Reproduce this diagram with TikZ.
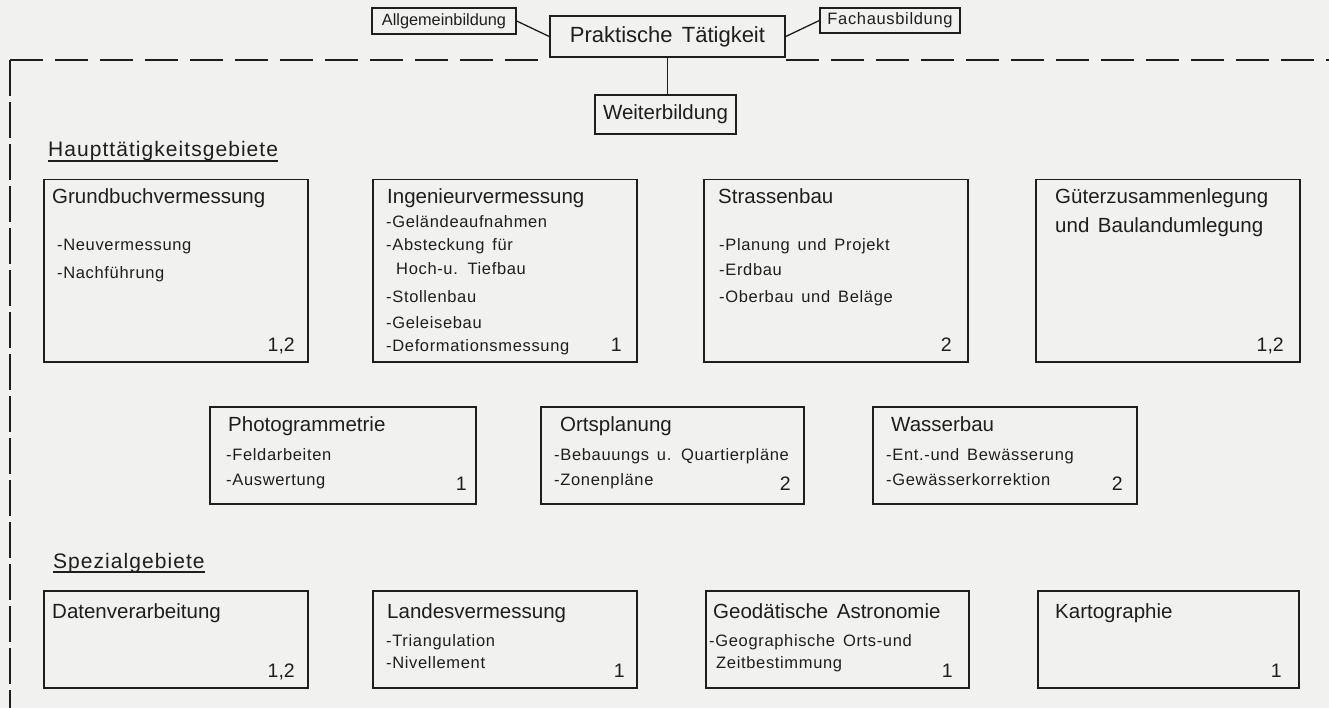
\documentclass[tikz,border=0pt]{standalone}
\usepackage{fontspec}
\setmainfont{Liberation Sans}[WordSpace=1.5]
\newfontfamily\itf{Liberation Sans}[LetterSpace=4,WordSpace=1.5]
\newfontfamily\hdf{Liberation Sans}[LetterSpace=5,WordSpace=1.5]
\definecolor{ink}{HTML}{1E1E1E}
\definecolor{paper}{HTML}{F1F1EF}
\tikzset{
  box/.style={draw=ink, line width=1.5pt, anchor=north west, inner sep=0pt},
  ttl/.style={anchor=base west, inner sep=0pt, text=ink, font=\fontsize{20.5}{24}\selectfont},
  itm/.style={anchor=base west, inner sep=0pt, text=ink, font=\itf\fontsize{16.5}{19}\selectfont},
  num/.style={anchor=base east, inner sep=0pt, text=ink, font=\fontsize{19.5}{23}\selectfont},
  head/.style={anchor=base west, inner sep=0pt, text=ink, font=\hdf\fontsize{21}{25}\selectfont},
  lbl/.style={draw=ink, line width=1.3pt, inner sep=0pt, text=ink},
  conn/.style={draw=ink, line width=1.3pt},
  dsh/.style={draw=ink, line width=1.3pt, dash pattern=on 33pt off 12pt},
  vdsh/.style={draw=ink, line width=1.3pt, dash pattern=on 36pt off 6pt},
  uline/.style={draw=ink, line width=1.1pt}
}
\begin{document}
\begin{tikzpicture}[x=1pt,y=-1pt]
\fill[paper] (0,0) rectangle (1329,708);
\useasboundingbox (0,0) rectangle (1329,708);

% top boxes
\node[lbl, minimum width=144pt, minimum height=26pt, font=\fontsize{16.3}{19}\selectfont] (allg) at (444,21) {Allgemeinbildung};
\node[lbl, line width=1.5pt, minimum width=235pt, minimum height=41pt, font=\fontsize{22}{26}\selectfont] (prak) at (667.5,36.5) {Praktische Tätigkeit};
\node[lbl, minimum width=140pt, minimum height=25pt, font=\itf\fontsize{16.5}{19}\selectfont] (fach) at (890,20.5) {Fachausbildung};
\node[lbl, line width=1.5pt, minimum width=141pt, minimum height=39pt, font=\fontsize{20.5}{24}\selectfont] (weit) at (665.5,114.5) {Weiterbildung};
\draw[conn] (allg.east) -- (prak.west);
\draw[conn] (prak.east) -- (fach.west);
\draw[conn] (prak.south) -- (prak.south |- weit.north);

% dashed frame
\coordinate (dL) at (10,60);
\coordinate (dB) at (10,708);
\coordinate (dR) at (1329,60);
\coordinate (pL) at (prak.south west |- dL);
\coordinate (pR) at (prak.south east |- dL);
\draw[dsh] (dL) -- (pL);
\draw[dsh] (pR) -- (dR);
\draw[vdsh] (dL) -- (dB);

% headings
\node[head] (h1) at (48,157) {Haupttätigkeitsgebiete};
\draw[uline] ([yshift=-4pt]h1.base west) -- ([yshift=-4pt]h1.base east);
\node[head] (h2) at (53,568) {Spezialgebiete};
\draw[uline] ([yshift=-4pt]h2.base west) -- ([yshift=-4pt]h2.base east);

% row 1
\node[box, minimum width=264pt, minimum height=182pt] (gb) at (43,179) {};
\node[ttl] (gbT) at (52,204) {Grundbuchvermessung};
\node[itm] (gb1) at (57,251) {-Neuvermessung};
\node[itm] (gb2) at (57,279) {-Nachführung};
\node[num] (gbN) at (295,351) {1,2};

\node[box, minimum width=264pt, minimum height=182pt] (iv) at (372,179) {};
\node[ttl] (ivT) at (387,204) {Ingenieurvermessung};
\node[itm] (iv1) at (386,228) {-Geländeaufnahmen};
\node[itm] (iv2) at (386,251) {-Absteckung für};
\node[itm] (iv3) at (396,275) {Hoch-u. Tiefbau};
\node[itm] (iv4) at (386,302) {-Stollenbau};
\node[itm] (iv5) at (386,328) {-Geleisebau};
\node[itm] (iv6) at (386,351) {-Deformationsmessung};
\node[num] (ivN) at (622,351) {1};

\node[box, minimum width=264pt, minimum height=182pt] (sb) at (703,179) {};
\node[ttl] (sbT) at (718,204) {Strassenbau};
\node[itm] (sb1) at (719,251) {-Planung und Projekt};
\node[itm] (sb2) at (719,276) {-Erdbau};
\node[itm] (sb3) at (719,302) {-Oberbau und Beläge};
\node[num] (sbN) at (952,351) {2};

\node[box, minimum width=264pt, minimum height=182pt] (gz) at (1035,179) {};
\node[ttl] (gzT) at (1055,204) {Güterzusammenlegung};
\node[ttl] (gzT2) at (1055,233) {und Baulandumlegung};
\node[num] (gzN) at (1284,351) {1,2};

% row 2
\node[box, minimum width=266pt, minimum height=97pt] (ph) at (209,406) {};
\node[ttl] (phT) at (228,431) {Photogrammetrie};
\node[itm] (ph1) at (226,460) {-Feldarbeiten};
\node[itm] (ph2) at (226,485) {-Auswertung};
\node[num] (phN) at (467,490) {1};

\node[box, minimum width=263pt, minimum height=97pt] (op) at (540,406) {};
\node[ttl] (opT) at (560,431) {Ortsplanung};
\node[itm] (op1) at (554,460) {-Bebauungs u. Quartierpläne};
\node[itm] (op2) at (554,485) {-Zonenpläne};
\node[num] (opN) at (791,490) {2};

\node[box, minimum width=264pt, minimum height=97pt] (wb) at (872,406) {};
\node[ttl] (wbT) at (891,431) {Wasserbau};
\node[itm] (wb1) at (886,460) {-Ent.-und Bewässerung};
\node[itm] (wb2) at (886,485) {-Gewässerkorrektion};
\node[num] (wbN) at (1123,490) {2};

% row 3
\node[box, minimum width=264pt, minimum height=97pt] (dv) at (43,590) {};
\node[ttl] (dvT) at (52,618) {Datenverarbeitung};
\node[num] (dvN) at (295,677) {1,2};

\node[box, minimum width=264pt, minimum height=97pt] (lv) at (372,590) {};
\node[ttl] (lvT) at (387,618) {Landesvermessung};
\node[itm] (lv1) at (386,646) {-Triangulation};
\node[itm] (lv2) at (386,668) {-Nivellement};
\node[num] (lvN) at (625,677) {1};

\node[box, minimum width=263pt, minimum height=97pt] (ga) at (705,590) {};
\node[ttl] (gaT) at (713,618) {Geodätische Astronomie};
\node[itm] (ga1) at (709,646) {-Geographische Orts-und};
\node[itm] (ga2) at (716,668) {Zeitbestimmung};
\node[num] (gaN) at (953,677) {1};

\node[box, minimum width=261pt, minimum height=97pt] (kg) at (1037,590) {};
\node[ttl] (kgT) at (1055,618) {Kartographie};
\node[num] (kgN) at (1282,677) {1};
\end{tikzpicture}
\end{document}
